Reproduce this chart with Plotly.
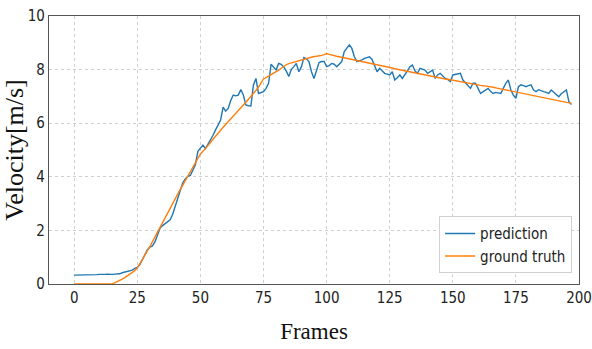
import plotly.graph_objects as go

frames = list(range(198))

prediction = [
    0.33, 0.33, 0.35, 0.34, 0.34, 0.35, 0.34, 0.34, 0.35, 0.35,
    0.36, 0.35, 0.36, 0.37, 0.36, 0.36, 0.37, 0.37, 0.38, 0.42,
    0.45, 0.47, 0.49, 0.52, 0.58, 0.62, 0.72, 0.92, 1.10, 1.28,
    1.38, 1.42, 1.58, 1.85, 2.08, 2.18, 2.25, 2.32, 2.40, 2.60,
    2.90, 3.25, 3.55, 3.78, 3.92, 4.02, 4.05, 4.25, 4.45, 4.95,
    5.05, 5.18, 5.05, 5.20, 5.37, 5.55, 5.75, 5.95, 6.12, 6.60,
    6.45, 6.55, 6.85, 7.05, 7.02, 7.05, 7.26, 7.05, 6.68, 6.65,
    6.64, 7.43, 7.67, 7.11, 7.15, 7.18, 7.30, 7.49, 8.20, 8.10,
    7.99, 8.23, 8.20, 8.10, 7.95, 7.74, 8.00, 8.11, 8.23, 7.92,
    8.10, 8.45, 8.40, 8.30, 7.92, 7.67, 7.95, 8.26, 8.30, 8.30,
    8.11, 8.15, 8.23, 8.20, 8.11, 8.20, 8.30, 8.67, 8.80, 8.92,
    8.79, 8.48, 8.30, 8.32, 8.36, 8.42, 8.45, 8.48, 8.38, 8.15,
    7.92, 8.05, 7.95, 7.86, 7.83, 7.80, 7.92, 7.61, 7.70, 7.80,
    7.67, 7.80, 7.95, 8.11, 8.17, 7.95, 7.86, 8.05, 8.00, 7.98,
    7.86, 7.92, 7.98, 7.67, 7.80, 7.86, 7.75, 7.67, 7.63, 7.55,
    7.80, 7.82, 7.84, 7.86, 7.61, 7.50, 7.43, 7.30, 7.49, 7.49,
    7.30, 7.11, 7.18, 7.25, 7.30, 7.18, 7.11, 7.15, 7.13, 7.11,
    7.30, 7.49, 7.61, 7.24, 7.05, 6.93, 7.36, 7.43, 7.40, 7.36,
    7.40, 7.43, 7.24, 7.18, 7.25, 7.20, 7.18, 7.15, 7.11, 7.24,
    7.15, 7.05, 6.99, 7.10, 7.18, 7.24, 6.80, 6.70,
]

ground_truth = [
    0.00, 0.00, 0.00, 0.00, 0.00, 0.00, 0.00, 0.00, 0.00, 0.00,
    0.00, 0.00, 0.00, 0.00, 0.00, 0.00, 0.04, 0.08, 0.13, 0.18,
    0.24, 0.30, 0.36, 0.42, 0.50, 0.60, 0.75, 0.92, 1.08, 1.25,
    1.40, 1.58, 1.76, 1.95, 2.13, 2.30, 2.48, 2.66, 2.84, 3.02,
    3.20, 3.37, 3.53, 3.69, 3.85, 4.00, 4.16, 4.32, 4.48, 4.64,
    4.85, 4.95, 5.05, 5.17, 5.28, 5.40, 5.52, 5.63, 5.74, 5.85,
    5.95, 6.06, 6.17, 6.28, 6.38, 6.48, 6.58, 6.68, 6.78, 6.88,
    6.98, 7.10, 7.22, 7.35, 7.50, 7.65, 7.70, 7.75, 7.82, 7.86,
    7.90, 7.98, 8.05, 8.12, 8.18, 8.22, 8.25, 8.28, 8.30, 8.33,
    8.36, 8.39, 8.42, 8.44, 8.47, 8.49, 8.50, 8.51, 8.53, 8.56,
    8.60, 8.57, 8.54, 8.52, 8.50, 8.48, 8.46, 8.45, 8.44, 8.42,
    8.40, 8.38, 8.36, 8.34, 8.32, 8.30, 8.28, 8.26, 8.24, 8.21,
    8.19, 8.17, 8.15, 8.12, 8.10, 8.08, 8.06, 8.03, 8.01, 7.99,
    7.97, 7.95, 7.93, 7.91, 7.89, 7.87, 7.85, 7.83, 7.81, 7.79,
    7.77, 7.75, 7.73, 7.71, 7.69, 7.67, 7.66, 7.65, 7.64, 7.62,
    7.61, 7.59, 7.57, 7.55, 7.53, 7.51, 7.49, 7.47, 7.45, 7.43,
    7.42, 7.41, 7.40, 7.39, 7.38, 7.36, 7.34, 7.32, 7.30, 7.28,
    7.26, 7.24, 7.22, 7.20, 7.19, 7.18, 7.16, 7.14, 7.12, 7.10,
    7.08, 7.06, 7.04, 7.02, 7.00, 6.98, 6.96, 6.94, 6.92, 6.90,
    6.88, 6.86, 6.84, 6.82, 6.80, 6.78, 6.76, 6.74,
]

x_ticks = [0, 25, 50, 75, 100, 125, 150, 175, 200]
y_ticks = [0, 2, 4, 6, 8, 10]

tick_font = dict(family="DejaVu Sans Condensed, DejaVu Sans, sans-serif", size=15, color="#222")
title_font = dict(family="Liberation Serif, Times New Roman, serif", size=23, color="#111")
ytitle_font = dict(family="Liberation Serif, Times New Roman, serif", size=26, color="#111")

fig = go.Figure()
fig.add_trace(go.Scatter(x=frames, y=prediction, mode="lines", name="prediction",
                         line=dict(color="#1f77b4", width=1.4)))
fig.add_trace(go.Scatter(x=frames, y=ground_truth, mode="lines", name="ground truth",
                         line=dict(color="#ff7f0e", width=1.4)))

axis_common = dict(showline=True, linecolor="#555", linewidth=1.2, mirror=True,
                   showgrid=True, gridcolor="#cfcfcf", griddash="dot", gridwidth=1,
                   zeroline=False, ticks="", tickfont=tick_font, automargin=False)

fig.update_layout(
    width=592, height=349,
    margin=dict(l=49, r=13, t=16, b=65),
    paper_bgcolor="white", plot_bgcolor="white",
    xaxis=dict(range=[-10, 200], tickvals=x_ticks, ticktext=[str(v) for v in x_ticks],
               title=dict(text="Frames", font=title_font, standoff=16), **axis_common),
    yaxis=dict(range=[0, 10], tickvals=y_ticks, ticktext=[str(v) for v in y_ticks],
               title=dict(text="Velocity[m/s]", font=ytitle_font, standoff=3), **axis_common),
    legend=dict(x=0.987, y=0.04, xanchor="right", yanchor="bottom",
                bgcolor="white", bordercolor="#d0d0d0", borderwidth=1,
                font=dict(family="DejaVu Sans Condensed, DejaVu Sans, sans-serif", size=15, color="#222"),
                tracegroupgap=4),
    showlegend=True,
)

fig.write_html("out.html", config={"displayModeBar": False},
               post_script="document.body.style.margin='0';document.body.style.padding='0';")
